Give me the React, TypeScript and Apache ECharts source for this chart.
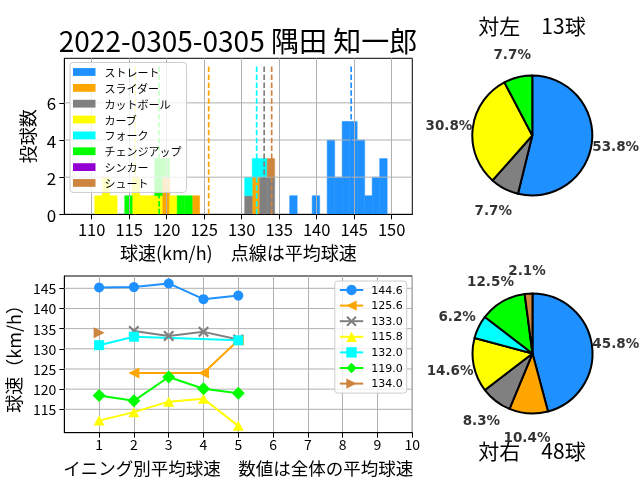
import React, { useEffect, useRef } from "react";
import * as echarts from "echarts";

// ---------- data ----------
const TITLE = "2022-0305-0305 隅田 知一郎";
const PITCH_TYPES = ["ストレート", "スライダー", "カットボール", "カーブ", "フォーク", "チェンジアップ", "シンカー", "シュート"];
const PITCH_COLORS = ["#1E90FF", "#FFA500", "#808080", "#FFFF00", "#00FFFF", "#00FF00", "#9400D3", "#CD853F"];

// histogram: [bin centre (km/h), number of pitches]
const BIN_WIDTH = 1.0;
const HIST_STRAIGHT = [[136.9, 1], [139.9, 1], [141.9, 4], [142.9, 2], [143.9, 5], [144.9, 5], [145.9, 4], [146.9, 1], [147.9, 2], [148.9, 3]];
const HIST_SLIDER = [[119.9, 2], [123.9, 1], [131.9, 2]];
const HIST_CUTTER = [[130.9, 1], [132.9, 2], [133.9, 2]];
const HIST_CURVE = [[110.9, 1], [111.9, 2], [112.9, 1], [115.9, 2], [116.9, 1], [117.9, 1], [118.9, 1], [120.9, 1]];
const HIST_FORK = [[130.9, 1], [131.9, 1], [132.9, 1]];
const HIST_CHANGEUP = [[114.9, 1], [118.9, 2], [119.9, 1], [121.9, 1], [122.9, 1]];
const HIST_SINKER: number[][] = [];
const HIST_SHOOT = [[133.9, 1]];

// average speed per pitch type (null = not thrown)
const MEAN_SPEEDS: (number | null)[] = [144.6, 125.6, 133.0, 115.8, 132.0, 119.0, null, 134.0];
const MEAN_LINE_TOP = 8;

// average speed per inning: [inning, km/h]
const INNING_STRAIGHT = [[1, 145.2], [2, 145.3], [3, 146.2], [4, 142.3], [5, 143.2]];
const INNING_SLIDER = [[2, 124.0], [4, 124.0], [5, 132.1]];
const INNING_CUTTER = [[2, 134.4], [3, 133.2], [4, 134.2], [5, 132.3]];
const INNING_CURVE = [[1, 112.2], [2, 114.3], [3, 116.9], [4, 117.6], [5, 110.9]];
const INNING_FORK = [[1, 130.9], [2, 133.0], [5, 132.1]];
const INNING_CHANGEUP = [[1, 118.4], [2, 117.1], [3, 123.0], [4, 120.1], [5, 119.0]];
const INNING_SINKER: number[][] = [];
const INNING_SHOOT = [[1, 134.0]];

// pitch counts by batter side
const VS_LEFT_COUNTS = [7, 0, 1, 4, 0, 1, 0, 0];
const VS_RIGHT_COUNTS = [22, 5, 4, 7, 3, 6, 0, 1];

// axes
const HIST_X_MIN = 106.35;
const HIST_X_MAX = 152.75;
const HIST_X_TICKS = [110, 115, 120, 125, 130, 135, 140, 145, 150];
const HIST_Y_MAX = 8.4;
const HIST_Y_TICKS = [0, 2, 4, 6];
const LINE_X_MIN = 0;
const LINE_X_MAX = 10;
const LINE_X_TICKS = [1, 2, 3, 4, 5, 6, 7, 8, 9, 10];
const LINE_Y_MIN = 109.2;
const LINE_Y_MAX = 148.05;
const LINE_Y_TICKS = [115, 120, 125, 130, 135, 140, 145];

// ---------- helpers ----------
const HIST_ALL = [HIST_STRAIGHT, HIST_SLIDER, HIST_CUTTER, HIST_CURVE, HIST_FORK, HIST_CHANGEUP, HIST_SINKER, HIST_SHOOT];
const INNING_ALL = [INNING_STRAIGHT, INNING_SLIDER, INNING_CUTTER, INNING_CURVE, INNING_FORK, INNING_CHANGEUP, INNING_SINKER, INNING_SHOOT];
const LINE_SYMBOLS = [
  "circle",
  "path://M0,5L10,0L10,10Z",
  "path://M0,1.4L1.4,0L5,3.6L8.6,0L10,1.4L6.4,5L10,8.6L8.6,10L5,6.4L1.4,10L0,8.6L3.6,5Z",
  "triangle",
  "rect",
  "diamond",
  "circle",
  "path://M0,0L10,5L0,10Z",
];
const LINE_SYMBOL_SIZES: any[] = [10, [11, 11], 11, [11, 10], 10, 13, 10, [11, 11]];

function pyPct(v: number): string {
  const x = v * 10;
  const f = Math.floor(x);
  let r: number;
  if (Math.abs(x - f - 0.5) < 1e-9) r = f % 2 === 0 ? f : f + 1;
  else r = Math.round(x);
  return (r / 10).toFixed(1) + "%";
}

const CJK = "Noto Sans CJK JP";

function buildOption() {
  // stacked histogram rectangles [left, right, base, top]
  const stackTop = new Map<string, number>();
  const histData = HIST_ALL.map((list) =>
    list.map(([c, n]) => {
      const key = c.toFixed(1);
      const base = stackTop.get(key) || 0;
      stackTop.set(key, base + n);
      return [c - BIN_WIDTH / 2, c + BIN_WIDTH / 2, base, base + n];
    })
  );

  const series: any[] = [];

  PITCH_TYPES.forEach((name, i) => {
    const color = PITCH_COLORS[i];
    series.push({
      type: "custom",
      name,
      xAxisIndex: 0,
      yAxisIndex: 0,
      silent: true,
      itemStyle: { color },
      encode: { x: [0, 1], y: [2, 3] },
      data: histData[i],
      z: 2,
      renderItem: (params: any, api: any) => {
        const a = api.coord([api.value(0), api.value(3)]);
        const b = api.coord([api.value(1), api.value(2)]);
        return {
          type: "rect",
          shape: { x: a[0], y: a[1], width: b[0] - a[0], height: b[1] - a[1] },
          style: { fill: color, stroke: color, lineWidth: 0.5 },
        };
      },
    });
  });

  // horizontal grid lines of histogram (above bars)
  [2, 4, 6].forEach((v) => {
    series.push({
      type: "line",
      name: "hgrid" + v,
      xAxisIndex: 0,
      yAxisIndex: 0,
      silent: true,
      symbol: "none",
      z: 2.5,
      lineStyle: { color: "#b0b0b0", width: 1 },
      data: [[HIST_X_MIN, v], [HIST_X_MAX, v]],
    });
  });

  // mean dashed lines
  MEAN_SPEEDS.forEach((m, i) => {
    if (m == null) return;
    series.push({
      type: "line",
      name: "mean" + i,
      xAxisIndex: 0,
      yAxisIndex: 0,
      silent: true,
      symbol: "none",
      z: 3,
      lineStyle: { color: PITCH_COLORS[i], width: 1.7, type: [5.5, 2.4] },
      data: [[m, 0], [m, MEAN_LINE_TOP]],
    });
  });

  // line chart grid lines (below lines)
  LINE_Y_TICKS.forEach((v) => {
    series.push({
      type: "line",
      name: "lgrid" + v,
      xAxisIndex: 1,
      yAxisIndex: 1,
      silent: true,
      symbol: "none",
      z: 1,
      lineStyle: { color: "#b0b0b0", width: 1 },
      data: [[LINE_X_MIN, v], [LINE_X_MAX, v]],
    });
  });

  const lineLegend: string[] = [];
  INNING_ALL.forEach((pts, i) => {
    const m = MEAN_SPEEDS[i];
    if (m == null) return;
    const name = m.toFixed(1);
    lineLegend.push(name);
    series.push({
      type: "line",
      name,
      xAxisIndex: 1,
      yAxisIndex: 1,
      silent: true,
      z: 2,
      color: PITCH_COLORS[i],
      symbol: LINE_SYMBOLS[i],
      symbolSize: LINE_SYMBOL_SIZES[i],
      showSymbol: true,
      lineStyle: { color: PITCH_COLORS[i], width: 2 },
      itemStyle: { color: PITCH_COLORS[i] },
      data: pts,
    });
  });

  const PIE_CENTERS = [[532.3, 135.5], [532.5, 353.5]];
  const pieCounts = [VS_LEFT_COUNTS, VS_RIGHT_COUNTS];
  const polar: any[] = [];
  const angleAxis: any[] = [];
  const radiusAxis: any[] = [];
  pieCounts.forEach((counts, k) => {
    const center = PIE_CENTERS[k];
    const total = counts.reduce((a, b) => a + b, 0);
    const items = counts
      .map((v, i) => ({ name: (k === 0 ? "L" : "R") + i, value: v, itemStyle: { color: PITCH_COLORS[i] } }))
      .filter((d) => d.value > 0);
    series.push({
      type: "pie",
      center,
      radius: 60,
      startAngle: 90,
      clockwise: true,
      silent: true,
      label: { show: false },
      labelLine: { show: false },
      itemStyle: { borderColor: "#000", borderWidth: 2 },
      data: items,
    });
    // percentage labels placed through a polar system sharing the pie centre
    polar.push({ center, radius: 84 });
    angleAxis.push({
      polarIndex: k, type: "value", min: 0, max: total, startAngle: 90, clockwise: true, show: false,
      axisLine: { show: false }, axisTick: { show: false }, axisLabel: { show: false }, splitLine: { show: false },
    });
    radiusAxis.push({
      polarIndex: k, type: "value", min: 0, max: 1, show: false,
      axisLine: { show: false }, axisTick: { show: false }, axisLabel: { show: false }, splitLine: { show: false },
    });
    let cum = 0;
    const labelPts = items.map((d) => {
      const mid = cum + d.value / 2;
      cum += d.value;
      return [1, mid, d.value];
    });
    series.push({
      type: "scatter",
      coordinateSystem: "polar",
      polarIndex: k,
      silent: true,
      z: 5,
      symbolSize: 1,
      itemStyle: { color: "rgba(0,0,0,0)" },
      label: {
        show: true,
        position: "inside",
        color: "#000",
        fontFamily: "DejaVu Sans",
        fontWeight: "bold",
        fontSize: 13.5,
        lineHeight: 14,
        formatter: (p: any) => pyPct((p.value[2] / total) * 100),
      },
      data: labelPts,
    });
  });

  const leftTotal = VS_LEFT_COUNTS.reduce((a, b) => a + b, 0);
  const rightTotal = VS_RIGHT_COUNTS.reduce((a, b) => a + b, 0);

  const textEl = (text: string, x: number, y: number, size: number) => ({
    type: "text",
    x,
    y,
    silent: true,
    style: {
      text,
      fontSize: size,
      fontFamily: CJK,
      fill: "#000",
      align: "center",
      verticalAlign: "middle",
      textAlign: "center",
      textVerticalAlign: "middle",
    },
  });

  const axisCommon = {
    axisLine: { show: true, onZero: false, lineStyle: { color: "#000", width: 1 } },
    axisTick: { show: true, length: 5, lineStyle: { color: "#000", width: 1 } },
    nameLocation: "middle",
    nameTextStyle: { fontSize: 18, lineHeight: 18, color: "#000", fontFamily: CJK },
  };

  return {
    animation: false,
    textStyle: { fontFamily: CJK },
    graphic: [
      textEl(TITLE, 238, 40, 28),
      textEl(`対左　${leftTotal}球`, 532, 25, 21),
      textEl(`対右　${rightTotal}球`, 532, 450, 21),
    ],
    polar,
    angleAxis,
    radiusAxis,
    grid: [
      { left: 64.3, top: 58.3, width: 348, height: 156, show: true, borderColor: "#000", borderWidth: 1, backgroundColor: "transparent", containLabel: false, outerBoundsMode: "none" },
      { left: 64.3, top: 276, width: 348, height: 156.7, show: true, borderColor: "#000", borderWidth: 1, backgroundColor: "transparent", containLabel: false, outerBoundsMode: "none" },
    ],
    xAxis: [
      {
        ...axisCommon,
        type: "value",
        gridIndex: 0,
        min: HIST_X_MIN,
        max: HIST_X_MAX,
        splitNumber: 9,
        z: 2.5,
        axisTick: { ...axisCommon.axisTick, customValues: HIST_X_TICKS },
        axisLabel: {
          customValues: HIST_X_TICKS,
          fontSize: 16.5,
          lineHeight: 16,
          color: "#000",
          margin: 7,
          formatter: (v: number) => (HIST_X_TICKS.includes(Math.round(v * 1000) / 1000) ? String(v) : ""),
        },
        splitLine: { show: true, lineStyle: { color: "#b0b0b0", width: 1 } },
        name: "球速(km/h)　点線は平均球速",
        nameGap: 29,
      },
      {
        ...axisCommon,
        type: "value",
        gridIndex: 1,
        min: LINE_X_MIN,
        max: LINE_X_MAX,
        interval: 1,
        axisTick: { ...axisCommon.axisTick, customValues: LINE_X_TICKS },
        axisLabel: {
          customValues: LINE_X_TICKS,
          fontSize: 14,
          lineHeight: 13,
          color: "#000",
          margin: 5,
          formatter: (v: number) => (LINE_X_TICKS.includes(v) ? String(v) : ""),
        },
        splitLine: { show: true, lineStyle: { color: "#b0b0b0", width: 1 } },
        name: "イニング別平均球速　数値は全体の平均球速",
        nameGap: 26,
        nameTextStyle: { fontSize: 17.5, lineHeight: 17.5, color: "#000", fontFamily: CJK },
      },
    ],
    yAxis: [
      {
        ...axisCommon,
        type: "value",
        gridIndex: 0,
        min: 0,
        max: HIST_Y_MAX,
        interval: 2,
        z: 2.5,
        axisTick: { ...axisCommon.axisTick, customValues: HIST_Y_TICKS },
        axisLabel: {
          customValues: HIST_Y_TICKS,
          fontSize: 17,
          color: "#000",
          margin: 8,
          formatter: (v: number) => (HIST_Y_TICKS.includes(v) ? String(v) : ""),
        },
        splitLine: { show: false },
        name: "投球数",
        nameGap: 24,
      },
      {
        ...axisCommon,
        type: "value",
        gridIndex: 1,
        min: LINE_Y_MIN,
        max: LINE_Y_MAX,
        splitNumber: 7,
        axisTick: { ...axisCommon.axisTick, customValues: LINE_Y_TICKS },
        axisLabel: {
          customValues: LINE_Y_TICKS,
          fontSize: 14,
          color: "#000",
          margin: 8,
          formatter: (v: number) => (LINE_Y_TICKS.includes(v) ? String(v) : ""),
        },
        splitLine: { show: false },
        name: "球速（km/h）",
        nameGap: 40,
      },
    ],
    legend: [
      {
        data: PITCH_TYPES,
        orient: "vertical",
        left: 70,
        top: 62.5,
        icon: "rect",
        itemWidth: 22.5,
        itemHeight: 7.8,
        itemGap: 4.85,
        padding: [4, 5, 4, 3],
        backgroundColor: "rgba(255,255,255,0.8)",
        borderColor: "#cccccc",
        borderWidth: 1,
        borderRadius: 3,
        selectedMode: false,
        textStyle: { fontSize: 11, lineHeight: 11, color: "#000", fontFamily: CJK, padding: [0, 0, 0, 4] },
      },
      {
        data: lineLegend,
        orient: "vertical",
        right: 233.3,
        top: 281,
        itemWidth: 23.4,
        itemHeight: 13,
        itemGap: 2.6,
        padding: [2.5, 4, 3, 4],
        backgroundColor: "rgba(255,255,255,0.8)",
        borderColor: "#cccccc",
        borderWidth: 1,
        borderRadius: 3,
        selectedMode: false,
        textStyle: { fontSize: 11, lineHeight: 13, color: "#000", fontFamily: "DejaVu Sans", padding: [0, 0, 0, 3] },
      },
    ],
    series,
  };
}

export default function App() {
  const ref = useRef<HTMLDivElement>(null);
  useEffect(() => {
    if (!ref.current) return;
    const chart = echarts.init(ref.current, null, { renderer: "svg" });
    chart.setOption(buildOption() as any);
    return () => chart.dispose();
  }, []);
  return <div ref={ref} style={{ position: "fixed", left: 0, top: 0, width: 640, height: 480 }} />;
}
